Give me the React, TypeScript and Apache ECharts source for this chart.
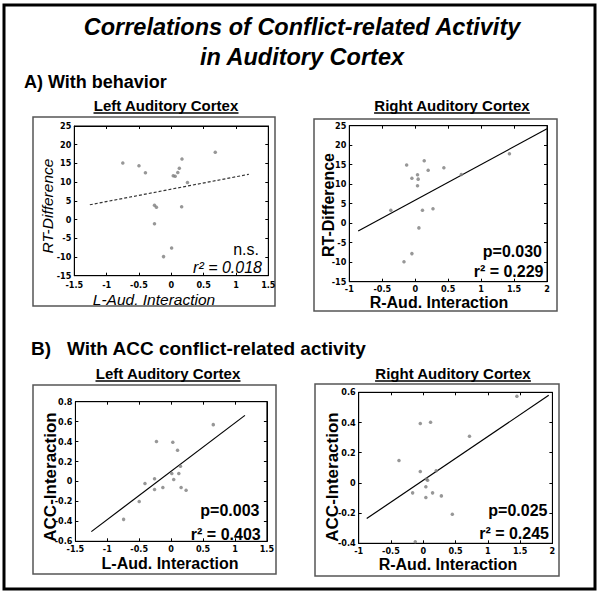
import React, { useEffect, useRef } from 'react';
import * as echarts from 'echarts';

// ---- Data ----
const titleLines = ['Correlations of Conflict-related Activity', 'in Auditory Cortex'];
const sectionLabels = ['A) With behavior', 'B)\u00a0\u00a0 With ACC conflict-related activity'];
const panelTitles = ['Left Auditory Cortex', 'Right Auditory Cortex', 'Left Auditory Cortex', 'Right Auditory Cortex'];
const xNames = ['L-Aud. Interaction', 'R-Aud. Interaction', 'L-Aud. Interaction', 'R-Aud. Interaction'];
const yNames = ['RT-Difference', 'RT-Difference', 'ACC-Interaction', 'ACC-Interaction'];
const statLine1 = ['n.s.', 'p=0.030', 'p=0.003', 'p=0.025'];
const statLine2 = ['r\u00b2 = 0.018', 'r\u00b2 = 0.229', 'r\u00b2 = 0.403', 'r\u00b2 = 0.245'];

const xMin = [-1.5, -1, -1.5, -1];
const xMax = [1.5, 2, 1.5, 2];
const xStep = [0.5, 0.5, 0.5, 0.5];
const yMin = [-15, -15, -0.6, -0.4];
const yMax = [25, 25, 0.8, 0.6];
const yStep = [5, 5, 0.2, 0.2];

const aLeftX = [-0.75, -0.5, -0.4, 0.165, 0.124, 0.1, 0.03, 0.06, 0.25, 0.68, -0.26, -0.23, 0.16, -0.26, 0.005, -0.12];
const aLeftY = [15.1, 14.4, 12.5, 16.2, 13.7, 12.6, 11.7, 11.6, 9.9, 18.0, 3.8, 3.3, 3.4, -1.1, -7.6, -9.9];
const aRightX = [-0.13, 0.137, 0.197, 0.435, 0.035, 0.045, -0.05, 0.035, 0.7, 1.43, -0.37, 0.11, 0.27, 0.056, -0.05, -0.17];
const aRightY = [14.9, 16.0, 13.6, 14.2, 12.4, 11.3, 11.5, 9.6, 12.5, 17.8, 3.3, 3.3, 3.7, -1.2, -7.8, -9.9];
const bLeftX = [0.66, -0.23, 0.026, 0.1, 0.146, 0.01, 0.12, 0.04, -0.26, -0.41, -0.26, -0.13, 0.156, 0.234, -0.5, -0.745];
const bLeftY = [0.57, 0.4, 0.393, 0.313, 0.153, 0.08, 0.08, 0.02, 0.027, -0.02, -0.08, -0.06, -0.06, -0.087, -0.2, -0.38];
const bRightX = [1.45, -0.046, 0.113, 0.716, -0.376, -0.046, 0.05, 0.067, 0.04, -0.165, 0.144, 0.28, 0.04, 0.45, -0.124, 0.2];
const bRightY = [0.574, 0.393, 0.402, 0.309, 0.148, 0.075, 0.026, 0.018, -0.026, -0.066, -0.066, -0.086, -0.097, -0.207, -0.39, 0.08];

const aLeftFitX = [-1.26, 1.2];
const aLeftFitY = [3.95, 12.1];
const aRightFitX = [-0.865, 2.0];
const aRightFitY = [-2.0, 24.2];
const bLeftFitX = [-1.25, 1.156];
const bLeftFitY = [-0.503, 0.663];
const bRightFitX = [-0.876, 1.943];
const bRightFitY = [-0.236, 0.58];

const pointsX = [aLeftX, aRightX, bLeftX, bRightX];
const pointsY = [aLeftY, aRightY, bLeftY, bRightY];
const fitsX = [aLeftFitX, aRightFitX, bLeftFitX, bRightFitX];
const fitsY = [aLeftFitY, aRightFitY, bLeftFitY, bRightFitY];

// ---- Layout ----
const FONT = '"Liberation Sans", Arial, sans-serif';
const NARROW = '"Liberation Sans Narrow", "DejaVu Sans Condensed", "Liberation Sans", sans-serif';

const grids = [
  { left: 74.3, top: 126, width: 194, height: 149.7 },
  { left: 349.3, top: 125.7, width: 197.7, height: 156 },
  { left: 75.4, top: 401.7, width: 191.5, height: 139.6 },
  { left: 358.7, top: 392.3, width: 193.7, height: 151 },
];
const xLabelMargin = [5, 3, 3.5, 3];
const boxes = [
  { x: 33, y: 117, w: 242, h: 189 },
  { x: 314, y: 119, w: 243, h: 192 },
  { x: 33, y: 385, w: 243, h: 189 },
  { x: 315, y: 384, w: 244, h: 192 },
];
const panelTitlePos = [
  { x: 166, y: 105 },
  { x: 452, y: 105 },
  { x: 168, y: 373 },
  { x: 453, y: 373 },
];
const xNamePos = [
  { x: 154, y: 299 },
  { x: 439, y: 302.5 },
  { x: 170, y: 563 },
  { x: 448, y: 564 },
];
const yNamePos = [
  { x: 47, y: 206 },
  { x: 328, y: 205 },
  { x: 50, y: 477 },
  { x: 332, y: 477 },
];
const stat1Pos = [
  { x: 259, y: 249.5 },
  { x: 542, y: 251 },
  { x: 259.5, y: 510.5 },
  { x: 547.5, y: 510.5 },
];
const stat2Pos = [
  { x: 262, y: 267 },
  { x: 543.5, y: 271 },
  { x: 260.7, y: 534 },
  { x: 549, y: 533.5 },
];

function measure(text: string, font: string): number {
  const c = document.createElement('canvas').getContext('2d');
  if (!c) return text.length * 8;
  c.font = font;
  return c.measureText(text).width;
}

export default function App() {
  const ref = useRef<HTMLDivElement>(null);
  useEffect(() => {
    if (!ref.current) return;
    const chart = echarts.init(ref.current, null, { renderer: 'svg' });

    const xAxis: any[] = [];
    const yAxis: any[] = [];
    const labelStyle = { color: '#000', fontSize: 9, fontWeight: 'bold', fontFamily: NARROW };
    for (let pass = 0; pass < 2; pass++) {
      for (let i = 0; i < 4; i++) {
        const main = pass === 0;
        xAxis.push({
          gridIndex: i, type: 'value', min: xMin[i], max: xMax[i], interval: xStep[i],
          position: main ? 'bottom' : 'top',
          axisLine: { show: true, onZero: false, lineStyle: { color: '#000', width: 1 } },
          axisTick: { show: true, inside: true, length: 3, lineStyle: { color: '#000', width: 1 } },
          axisLabel: main ? { ...labelStyle, margin: xLabelMargin[i], showMinLabel: true, showMaxLabel: true } : { show: false },
          splitLine: { show: false },
        });
        yAxis.push({
          gridIndex: i, type: 'value', min: yMin[i], max: yMax[i], interval: yStep[i],
          position: main ? 'left' : 'right',
          axisLine: { show: true, onZero: false, lineStyle: { color: '#000', width: 1 } },
          axisTick: { show: true, inside: true, length: 3, lineStyle: { color: '#000', width: 1 } },
          axisLabel: main ? { ...labelStyle, margin: 3, showMinLabel: true, showMaxLabel: true } : { show: false },
          splitLine: { show: false },
        });
      }
    }

    const series: any[] = [];
    for (let i = 0; i < 4; i++) {
      series.push({
        type: 'line', xAxisIndex: i, yAxisIndex: i, symbol: 'none', silent: true,
        data: fitsX[i].map((x, k) => [x, fitsY[i][k]]),
        lineStyle: { color: i === 0 ? '#333' : '#000', width: 1.2, type: i === 0 ? [3, 2] : 'solid' },
        z: 2,
      });
      series.push({
        type: 'scatter', xAxisIndex: i, yAxisIndex: i, symbol: 'circle', symbolSize: 3.5,
        data: pointsX[i].map((x, k) => [x, pointsY[i][k]]),
        itemStyle: { color: '#7d7d7d' },
        z: 3,
      });
    }

    const graphic: any[] = [];
    graphic.push({ type: 'rect', shape: { x: 4, y: 5, width: 591, height: 584 }, style: { fill: 'none', stroke: '#000', lineWidth: 3 } });
    titleLines.forEach((t, k) => {
      graphic.push({ type: 'text', x: 302, y: k === 0 ? 27 : 57, style: { text: t, fontSize: 23.5, fontWeight: 'bold', fontStyle: 'italic', fontFamily: FONT, fill: '#000', align: 'center', verticalAlign: 'middle' } });
    });
    graphic.push({ type: 'text', x: 24, y: 82, style: { text: sectionLabels[0], fontSize: 18, fontWeight: 'bold', fontFamily: FONT, fill: '#000', align: 'left', verticalAlign: 'middle' } });
    graphic.push({ type: 'text', x: 31, y: 348, style: { text: sectionLabels[1], fontSize: 19, fontWeight: 'bold', fontFamily: FONT, fill: '#000', align: 'left', verticalAlign: 'middle' } });

    for (let i = 0; i < 4; i++) {
      const b = boxes[i];
      graphic.push({ type: 'rect', shape: { x: b.x, y: b.y, width: b.w, height: b.h }, style: { fill: 'none', stroke: '#555', lineWidth: 1.5 } });
      const pt = panelTitlePos[i];
      const w = measure(panelTitles[i], `bold 15px ${FONT}`);
      graphic.push({ type: 'text', x: pt.x, y: pt.y, style: { text: panelTitles[i], fontSize: 15, fontWeight: 'bold', fontFamily: FONT, fill: '#000', align: 'center', verticalAlign: 'middle' } });
      graphic.push({ type: 'line', shape: { x1: pt.x - w / 2, y1: pt.y + 8, x2: pt.x + w / 2, y2: pt.y + 8 }, style: { stroke: '#000', lineWidth: 1.5 } });
      const italic = i === 0;
      graphic.push({ type: 'text', x: xNamePos[i].x, y: xNamePos[i].y, style: { text: xNames[i], fontSize: italic ? 15.5 : 16, fontWeight: italic ? 'normal' : 'bold', fontStyle: italic ? 'italic' : 'normal', fontFamily: FONT, fill: '#000', align: 'center', verticalAlign: 'middle' } });
      graphic.push({ type: 'text', x: yNamePos[i].x, y: yNamePos[i].y, rotation: Math.PI / 2, style: { text: yNames[i], fontSize: italic ? 15.5 : (i >= 2 ? 17 : 16), fontWeight: italic ? 'normal' : 'bold', fontStyle: italic ? 'italic' : 'normal', fontFamily: FONT, fill: '#000', align: 'center', verticalAlign: 'middle' } });
      graphic.push({ type: 'text', x: stat1Pos[i].x, y: stat1Pos[i].y, style: { text: statLine1[i], fontSize: 16, fontWeight: italic ? 'normal' : 'bold', fontFamily: FONT, fill: '#000', align: 'right', verticalAlign: 'middle' } });
      graphic.push({ type: 'text', x: stat2Pos[i].x, y: stat2Pos[i].y, style: { text: statLine2[i], fontSize: 16, fontWeight: italic ? 'normal' : 'bold', fontStyle: italic ? 'italic' : 'normal', fontFamily: FONT, fill: '#000', align: 'right', verticalAlign: 'middle' } });
    }

    chart.setOption({
      animation: false,
      backgroundColor: '#fff',
      grid: grids.map((g) => ({ ...g, show: true, borderColor: '#000', borderWidth: 1, backgroundColor: 'transparent', containLabel: false })),
      xAxis,
      yAxis,
      series,
      graphic,
    });
    return () => chart.dispose();
  }, []);
  return <div ref={ref} style={{ position: 'absolute', left: 0, top: 0, width: 601, height: 597, background: '#fff' }} />;
}
